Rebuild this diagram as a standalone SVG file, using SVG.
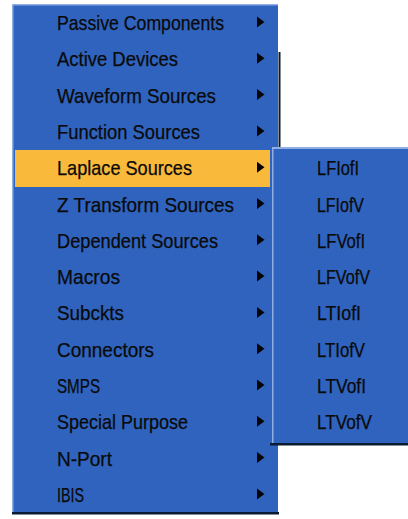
<svg xmlns="http://www.w3.org/2000/svg" xmlns:xlink="http://www.w3.org/1999/xlink" width="408" height="519" viewBox="0 0 408 519">
  <style>
    .menu { fill: #2F63BD; }
    .hl { fill: #F9B93B; }
    .lite { fill: #8FAEE3; }
    .dark { fill: #0B1A33; }
    .t { font-family: "Liberation Sans", Arial, sans-serif; font-size: 21px; fill: #0A0A0A; stroke: #0A0A0A; stroke-width: 0.25; }
    .arr { fill: #050505; }
  </style>
  <defs>
    <polygon id="arr" class="arr" points="257,-5.5 264.5,0 257,5.5"/>
  </defs>
  <rect width="408" height="519" fill="#FFFFFF"/>

  <g id="main-menu">
    <rect class="menu" x="12" y="4" width="266" height="509"/>
    <rect class="lite" x="12" y="4" width="266" height="1.5"/>
    <rect class="lite" x="12" y="4" width="1.5" height="509"/>
    <rect class="dark" x="12" y="512" width="267" height="2.5"/>
    <rect class="dark" x="278.5" y="52" width="2" height="95"/>
  </g>

  <g id="item-passive"><text class="t" x="57" y="30" textLength="167" lengthAdjust="spacingAndGlyphs">Passive Components</text><use href="#arr" xlink:href="#arr" y="22"/></g>
  <g id="item-active"><text class="t" x="57" y="66.3" textLength="121" lengthAdjust="spacingAndGlyphs">Active Devices</text><use href="#arr" xlink:href="#arr" y="58.3"/></g>
  <g id="item-waveform"><text class="t" x="57" y="102.6" textLength="159" lengthAdjust="spacingAndGlyphs">Waveform Sources</text><use href="#arr" xlink:href="#arr" y="94.6"/></g>
  <g id="item-function"><text class="t" x="57" y="138.9" textLength="143" lengthAdjust="spacingAndGlyphs">Function Sources</text><use href="#arr" xlink:href="#arr" y="130.9"/></g>
  <g id="item-laplace">
    <rect class="hl" x="15" y="150" width="255" height="37"/>
    <text class="t" x="57" y="175.2" textLength="135" lengthAdjust="spacingAndGlyphs">Laplace Sources</text><use href="#arr" xlink:href="#arr" y="167.2"/>
  </g>
  <g id="item-ztransform"><text class="t" x="57" y="211.5" textLength="177" lengthAdjust="spacingAndGlyphs">Z Transform Sources</text><use href="#arr" xlink:href="#arr" y="203.5"/></g>
  <g id="item-dependent"><text class="t" x="57" y="247.8" textLength="161" lengthAdjust="spacingAndGlyphs">Dependent Sources</text><use href="#arr" xlink:href="#arr" y="239.8"/></g>
  <g id="item-macros"><text class="t" x="57" y="284.1" textLength="63" lengthAdjust="spacingAndGlyphs">Macros</text><use href="#arr" xlink:href="#arr" y="276.1"/></g>
  <g id="item-subckts"><text class="t" x="57" y="320.4" textLength="67" lengthAdjust="spacingAndGlyphs">Subckts</text><use href="#arr" xlink:href="#arr" y="312.4"/></g>
  <g id="item-connectors"><text class="t" x="57" y="356.7" textLength="97" lengthAdjust="spacingAndGlyphs">Connectors</text><use href="#arr" xlink:href="#arr" y="348.7"/></g>
  <g id="item-smps"><text class="t" x="57" y="393" textLength="43" lengthAdjust="spacingAndGlyphs">SMPS</text><use href="#arr" xlink:href="#arr" y="385"/></g>
  <g id="item-special"><text class="t" x="57" y="429.3" textLength="131" lengthAdjust="spacingAndGlyphs">Special Purpose</text><use href="#arr" xlink:href="#arr" y="421.3"/></g>
  <g id="item-nport"><text class="t" x="57" y="465.6" textLength="55" lengthAdjust="spacingAndGlyphs">N-Port</text><use href="#arr" xlink:href="#arr" y="457.6"/></g>
  <g id="item-ibis"><text class="t" x="57" y="501.9" textLength="27" lengthAdjust="spacingAndGlyphs">IBIS</text><use href="#arr" xlink:href="#arr" y="493.9"/></g>

  <g id="sub-menu">
    <rect class="menu" x="272" y="147" width="136" height="297"/>
    <rect class="lite" x="272" y="147" width="136" height="2"/>
    <rect class="lite" x="272" y="147" width="1.5" height="297"/>
    <rect class="dark" x="270" y="443" width="138" height="2.5"/>
  </g>
  <g id="sub-LFIofI"><text class="t" x="317" y="175.2" textLength="42" lengthAdjust="spacingAndGlyphs">LFIofI</text></g>
  <g id="sub-LFIofV"><text class="t" x="317" y="211.5" textLength="47" lengthAdjust="spacingAndGlyphs">LFIofV</text></g>
  <g id="sub-LFVofI"><text class="t" x="317" y="247.8" textLength="48" lengthAdjust="spacingAndGlyphs">LFVofI</text></g>
  <g id="sub-LFVofV"><text class="t" x="317" y="284.1" textLength="53" lengthAdjust="spacingAndGlyphs">LFVofV</text></g>
  <g id="sub-LTIofI"><text class="t" x="317" y="320.4" textLength="44" lengthAdjust="spacingAndGlyphs">LTIofI</text></g>
  <g id="sub-LTIofV"><text class="t" x="317" y="356.7" textLength="48" lengthAdjust="spacingAndGlyphs">LTIofV</text></g>
  <g id="sub-LTVofI"><text class="t" x="317" y="393" textLength="49" lengthAdjust="spacingAndGlyphs">LTVofI</text></g>
  <g id="sub-LTVofV"><text class="t" x="317" y="429.3" textLength="55" lengthAdjust="spacingAndGlyphs">LTVofV</text></g>

  <g id="connectors"></g>
</svg>
